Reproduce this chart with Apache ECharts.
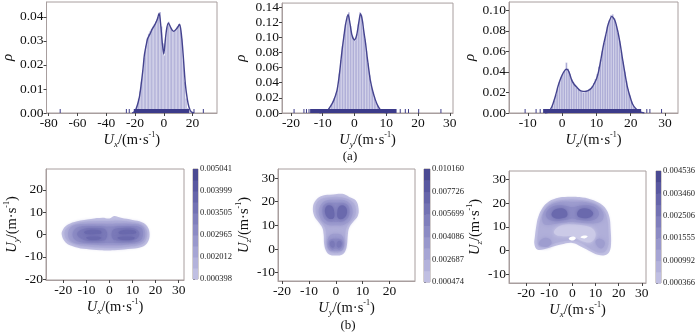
<!DOCTYPE html>
<html><head><meta charset="utf-8">
<script src="https://cdn.jsdelivr.net/npm/echarts@6/dist/echarts.min.js"></script>
<style>html,body{margin:0;padding:0;background:#fff}#c{width:700px;height:336px}</style>
</head><body><div id="c"></div>
<script>
// ---------- histogram data (density) ----------
const uxBinStart = -20, uxBinWidth = 1;
const uxDensity = [0.001,0.003,0.006,0.009,0.013,0.018,0.023,0.028,0.031,0.033,0.034,0.035,0.036,0.037,0.038,0.039,0.040,0.042,0.036,0.029,0.024,0.031,0.036,0.038,0.036,0.035,0.034,0.034,0.035,0.036,0.037,0.036,0.031,0.022,0.013,0.006,0.002,0.001];
const uxKde = [[-22,0],[-20,0.0008],[-18.5,0.003],[-17,0.0065],[-15.9,0.011],[-14.5,0.018],[-13.5,0.024],[-12.3,0.028],[-11.2,0.031],[-9.5,0.033],[-8,0.035],[-6,0.037],[-4.5,0.039],[-3.2,0.0415],[-2,0.036],[-1,0.029],[0,0.0245],[1,0.030],[2,0.035],[3.2,0.0375],[4.5,0.036],[5.8,0.0345],[7,0.034],[8.5,0.0348],[10,0.036],[11,0.037],[12,0.034],[13,0.028],[14,0.020],[15,0.012],[16.3,0.006],[17.5,0.0025],[19,0.0005],[21,0]];
const uxRugBands = [[-20.5, 18]];
const uxRugTicks = [-72, -26, -24, 21, 27.5];

const uyBinStart = -10, uyBinWidth = 0.5;
const uyDensity = [0.001,0.002,0.003,0.005,0.007,0.011,0.015,0.020,0.026,0.036,0.052,0.070,0.088,0.104,0.118,0.128,0.133,0.115,0.102,0.097,0.096,0.104,0.117,0.133,0.129,0.113,0.098,0.082,0.066,0.050,0.037,0.028,0.021,0.015,0.010,0.007,0.004,0.003,0.002,0.001];
const uyKde = [[-11,0],[-10,0.0008],[-8.6,0.003],[-7.5,0.009],[-6.5,0.017],[-5.5,0.03],[-4.9,0.046],[-4.4,0.064],[-3.9,0.083],[-3.3,0.102],[-2.8,0.117],[-2.0,0.130],[-1.4,0.118],[-0.8,0.103],[0,0.0965],[0.7,0.103],[1.3,0.118],[1.9,0.131],[2.5,0.122],[2.9,0.109],[3.5,0.092],[4.0,0.074],[4.5,0.058],[5.0,0.043],[5.8,0.028],[6.6,0.017],[7.4,0.009],[8.2,0.004],[9.2,0.0012],[10.5,0]];
const uyRugBands = [[-13.8, 13.4]];
const uyRugTicks = [-19, -15.9, -15.1, -14.3, 14.4, 16, 17, 20.2, 27.2];

const uzBinStart = -4, uzBinWidth = 0.5;
const uzDensity = [0.001,0.003,0.007,0.012,0.018,0.024,0.030,0.035,0.038,0.041,0.049,0.043,0.038,0.033,0.030,0.027,0.025,0.023,0.022,0.021,0.020,0.021,0.022,0.023,0.024,0.026,0.029,0.033,0.038,0.045,0.052,0.060,0.068,0.076,0.084,0.090,0.095,0.096,0.092,0.086,0.078,0.070,0.060,0.050,0.040,0.031,0.023,0.017,0.011,0.007,0.005,0.003,0.002,0.001];
const uzKde = [[-5,0],[-4,0.001],[-3,0.006],[-2,0.016],[-1.2,0.026],[-0.6,0.032],[0,0.037],[0.9,0.042],[1.4,0.0426],[2.0,0.040],[2.8,0.032],[3.5,0.028],[4.3,0.025],[5.2,0.022],[6.2,0.021],[7.0,0.0212],[7.7,0.022],[8.5,0.024],[9.1,0.027],[10.0,0.033],[10.6,0.040],[11.3,0.052],[12.0,0.065],[12.8,0.077],[13.5,0.087],[14.5,0.094],[15.4,0.090],[16.2,0.080],[16.9,0.068],[17.6,0.053],[18.3,0.039],[19.0,0.026],[19.8,0.016],[20.5,0.009],[21.3,0.005],[22.7,0.001],[24,0]];
const uzRugBands = [[-5.4, 23.2]];
const uzRugTicks = [-10.8, -7.6, -6.4, 24.7, 25.6, 29.0];

// ---------- tick labels ----------
const uxHistXTicks = [-80,-60,-40,-20,0,20];
const uxHistYTicks = [0,0.01,0.02,0.03,0.04];
const uyHistXTicks = [-20,-10,0,10,20,30];
const uyHistYTicks = [0,0.02,0.04,0.06,0.08,0.10,0.12,0.14];
const uzHistXTicks = [-10,0,10,20,30];
const uzHistYTicks = [0,0.02,0.04,0.06,0.08,0.10];
const uxuyXTicks = [-20,-10,0,10,20,30];
const uxuyYTicks = [-20,-10,0,10,20];
const uyuzXTicks = [-20,-10,0,10,20];
const uyuzYTicks = [-10,0,10,20,30];
const uxuzXTicks = [-20,-10,0,10,20,30];
const uxuzYTicks = [-10,0,10,20,30];

// ---------- colorbar labels ----------
const cbLabelsUxUy = ['0.000398','0.002012','0.002965','0.003505','0.003999','0.005041'];
const cbLabelsUyUz = ['0.000474','0.002687','0.004086','0.005699','0.007726','0.010160'];
const cbLabelsUxUz = ['0.000366','0.000992','0.001555','0.002506','0.003460','0.004536'];

// ---------- 2D density contour shapes (data coords) ----------
const uxuyL0 = [[-20.7,0],[-20,2.5],[-18,4.5],[-14,6],[-8,7],[-3,7.5],[0,7.2],[2,8.3],[5,7.5],[10,6.5],[14,5.5],[16.5,3.5],[17.4,0],[16.5,-3.5],[14,-5.5],[8,-6.5],[2,-7],[-4,-7],[-10,-6.5],[-15,-5.5],[-19,-3.5]];
const uxuyL1 = [[-19.5,0],[-18.5,2.8],[-14,4.9],[-8,5.9],[0,6.1],[5,6.2],[10,5.5],[14,4.4],[16,2],[16.2,-1],[14.5,-4],[8,-5.5],[0,-6],[-8,-5.6],[-14,-4.6],[-18,-2.8]];
const uxuyL2 = [[-18,0],[-16,3.8],[-8,4.8],[0,4.8],[8,4.8],[14,3.8],[15.5,0],[14,-3.2],[8,-4.4],[0,-4.8],[-8,-4.4],[-16,-3.4]];
const uxuyL3 = [[-16,0],[-14,3.2],[-7,3.8],[0,3.6],[7,3.8],[13.5,3.2],[14.5,0],[13,-2.9],[6,-3.6],[0,-3.8],[-6,-3.7],[-14,-3]];
const uxuyL4a = [[-14,0.3],[-11,2.6],[-5,2.8],[-1.5,2],[-1.5,-2],[-5,-2.8],[-11,-2.4]];
const uxuyL4b = [[1.5,2],[6,2.9],[11,2.6],[13,0.3],[11,-2.2],[5,-2.6],[1.5,-2]];
const uxuyL5a = [[-11,1.2],[-8,2.1],[-4,1.8],[-3.5,0.6],[-6,0.2],[-10,0.3]];
const uxuyL5b = [[4,1.2],[7,2.1],[11,1.8],[11.5,0.6],[8,0.2],[4.5,0.3]];
const uxuyL5c = [[-10,-1.2],[-6,-0.9],[-3.5,-1.4],[-5,-2.3],[-9,-2.2]];
const uxuyL5d = [[3.5,-1.3],[7,-0.9],[11,-1.3],[10,-2.2],[5,-2.3]];

const uyuzL0 = [[-1,23],[-5,22.5],[-7.5,20.5],[-8.5,17.5],[-8,14],[-6.5,11.5],[-5,9],[-4.5,6],[-4.3,2],[-3.5,-1],[-2,-2.5],[0,-2.7],[2,-2.5],[3.5,-1],[4.2,2],[4.5,6],[5,9],[6.5,11.5],[8.2,14],[8.5,17],[7.5,20.5],[5,22],[2.5,23.3]];
const uyuzL1 = [[-1,22],[-5,21.3],[-7,19.5],[-7.5,17],[-7,14],[-5.5,11.5],[-4,9],[-3.5,6],[-3.3,2],[-2.5,-0.5],[0,-1.5],[2.5,-0.5],[3.3,2],[3.5,6],[4,9],[5.5,11.5],[7.2,14],[7.5,17],[6.5,19.5],[4,21.3],[1,22]];
const uyuzL2a = [[-6.2,17],[-5.7,13],[-3.5,10.5],[0,10],[3.5,10.5],[5.7,13],[6.2,17],[4,20.3],[0,20.8],[-4,20.3]];
const uyuzL2b = [[-3,3.5],[-2.5,-0.3],[0,-0.8],[2.5,-0.3],[3,3.5],[2,6],[0,6.5],[-2,6]];
const uyuzL3a = [[-5,15.5],[-3.5,12],[0,11.5],[3.5,12],[5.2,15.5],[4,19],[0,19.5],[-4,19]];
const uyuzL3b = [[-2.6,2],[-1.5,-0.2],[0,0.2],[1.5,-0.2],[2.6,2],[2,4],[0,4.3],[-2,4]];
const uyuzL4a = [[-4,15.5],[-2.8,13],[-0.8,13],[-0.6,16],[-1.5,18.2],[-3.5,18]];
const uyuzL4b = [[0.6,16],[0.9,13],[3,13],[4.2,15.5],[3.5,18],[1.5,18.2]];
const uyuzL4c = [[-2.2,2],[-1.4,0.6],[-0.4,1.2],[-0.7,3.2],[-1.8,3.3]];
const uyuzL4d = [[0.4,1.2],[1.4,0.6],[2.2,2],[1.8,3.3],[0.7,3.2]];

const uxuzL0 = [[-16.4,2.5],[-16.2,6],[-15.5,11],[-14.8,14],[-13.5,17],[-11,20],[-7,22],[-2,22.6],[3,22.5],[8,21.5],[12,19.8],[14.5,17.5],[16,14],[16.5,9],[16.7,3],[16,-0.5],[14,-2],[11,-1.8],[8,-0.5],[4,1.5],[0,3.2],[-5,2.5],[-10,1.2],[-15,0.3]];
const uxuzL1 = [[-15,3],[-14.8,8],[-14,12.5],[-12,17],[-9,20],[-4,21.3],[3,21.3],[9,20],[13,17.5],[15,13.5],[15.5,8],[15.5,2.5],[14,-0.5],[11,-0.8],[7.5,0.8],[4,3],[0,4.3],[-5,3.7],[-10,2.3],[-14,1.5]];
const uxuzHole = [[-8,8],[-5,10.5],[0,11],[5,10.5],[9,9],[10,6],[8,3.5],[4,4],[0,6],[-4,6],[-7,6.5]];
const uxuzL2a = [[-13,14],[-11,18],[-6,20.3],[0,20.5],[6,20.3],[11,18.5],[13.5,15],[12,12],[6,11.5],[0,12],[-6,11.5],[-12,11]];
const uxuzL2b = [[-14.5,2.5],[-13,5],[-10,5],[-9,3],[-11,1.5]];
const uxuzL2c = [[10,4],[12,5],[14,3.5],[13,1],[11,1.5]];
const uxuzL3 = [[-11.5,15],[-9,18.3],[-4,19],[0,18.3],[4,19],[9,18.5],[11.5,15.5],[9,12.8],[3,12.8],[0,13.5],[-3,12.8],[-9,12.6]];
const uxuzL4a = [[-9,15.5],[-7,17.5],[-3,17.2],[-2.3,14.5],[-5,13.5],[-8,13.8]];
const uxuzL4b = [[2,15.5],[3.5,17.5],[7,17.5],[9,15.5],[7,13.8],[3,14]];
const uxuzWhite1 = [[-1.6,5],[0,5.9],[1.5,5.3],[0.2,4.2]];
const uxuzWhite2 = [[3.5,5.6],[5,6.3],[6.6,6],[5.3,5.1]];

// ---------- styles ----------
const FONT = 'Liberation Serif';
const C = ['#c2c1e3','#b0afd9','#9e9dcf','#8c8bc4','#7a79b8','#6a69ad','#5c5ba1'];
const cbColors = ['#c0bfe2','#b3b2db','#a6a5d4','#9998cc','#8c8bc4','#807fbc','#7372b3','#6665aa','#5958a0','#4b4a92'];
const frameColor = '#a89e9e';

const chart = echarts.init(document.getElementById('c'), null, {renderer:'canvas'});

const grids = [
  {left:45, top:2, width:172, height:111},
  {left:282, top:2, width:171, height:111},
  {left:509, top:2, width:169, height:111},
  {left:46, top:169, width:138, height:111},
  {left:278, top:169, width:137, height:112},
  {left:509, top:171, width:137, height:112},
  {left:193, top:169, width:5, height:110},
  {left:424, top:169, width:6, height:113},
  {left:656, top:171, width:5, height:112}
].map(g => Object.assign({show:true, borderColor:frameColor, borderWidth:1, containLabel:false}, g));

const unitRich = {
  i:{fontFamily:FONT, fontStyle:'italic', fontSize:14.5, lineHeight:18, color:'#111'},
  s:{fontFamily:FONT, fontStyle:'italic', fontSize:9, lineHeight:9, verticalAlign:'bottom', color:'#111'},
  n:{fontFamily:FONT, fontSize:14.5, lineHeight:18, color:'#111'},
  p:{fontFamily:FONT, fontSize:8, lineHeight:8, verticalAlign:'top', color:'#111'}
};
function unitName(sub){ return '{i|U}{s|' + sub + '}{n|/(m·s}{p|-1}{n|)}'; }

function baseAxis(gi, min, max, ticks, fmt){
  return {
    type:'value', gridIndex:gi, min:min, max:max,
    splitLine:{show:false},
    axisLine:{show:true, onZero:false, lineStyle:{color:frameColor, width:1}},
    axisTick:{show:true, length:3, inside:false, lineStyle:{color:'#444'}, customValues:ticks},
    axisLabel:{show:true, color:'#111', fontFamily:FONT, fontSize:13.5, margin:3, customValues:ticks, formatter:fmt || (v => String(Math.round(v)))}
  };
}
function xAx(gi, min, max, ticks, name, gap){
  const a = baseAxis(gi, min, max, ticks);
  a.position = 'bottom';
  a.name = name; a.nameLocation = 'middle'; a.nameGap = gap;
  a.nameTextStyle = {rich: unitRich};
  return a;
}
function yAxHist(gi, min, max, ticks, gap){
  const a = baseAxis(gi, min, max, ticks, v => v.toFixed(2));
  a.name = 'ρ'; a.nameLocation = 'middle'; a.nameGap = gap; a.nameRotate = 90;
  a.nameTextStyle = {fontFamily:FONT, fontStyle:'italic', fontSize:15, color:'#111'};
  return a;
}
function yAxJoint(gi, min, max, ticks, name, gap){
  const a = baseAxis(gi, min, max, ticks);
  a.name = name; a.nameLocation = 'middle'; a.nameGap = gap; a.nameRotate = 90;
  a.nameTextStyle = {rich: unitRich};
  return a;
}
function cbX(gi){ return {type:'value', gridIndex:gi, min:0, max:1, show:false}; }
function cbY(gi, labels){
  return {type:'value', gridIndex:gi, min:0, max:5, position:'right',
    splitLine:{show:false},
    axisLine:{show:false},
    axisTick:{show:true, length:2, lineStyle:{color:'#666'}, customValues:[0,1,2,3,4,5]},
    axisLabel:{show:true, color:'#222', fontFamily:FONT, fontSize:8.5, margin:2, customValues:[0,1,2,3,4,5], formatter: v => labels[Math.round(v)]}
  };
}

function histSeries(idx, start, width, vals){
  return {type:'custom', xAxisIndex:idx, yAxisIndex:idx, silent:true, clip:true,
    data: vals.map((v,i) => [start + i*width, start + (i+1)*width, v]),
    encode:{x:[0,1], y:2},
    renderItem:(p, api) => {
      const a = api.coord([api.value(0), api.value(2)]);
      const b = api.coord([api.value(1), 0]);
      return {type:'rect', shape:{x:a[0], y:a[1], width:b[0]-a[0], height:b[1]-a[1]},
        style:{fill:'#a6a5d3', stroke:'rgba(255,255,255,0.7)', lineWidth:0.4}};
    }};
}
function kdeSeries(idx, pts){
  return {type:'line', xAxisIndex:idx, yAxisIndex:idx, data:pts, smooth:0.25, showSymbol:false, silent:true,
    lineStyle:{color:'#45448f', width:1.4}, z:3};
}
function rugSeries(idx, bands, ticks){
  const items = bands.map(b => [b[0], b[1], 0]).concat(ticks.map(t => [t, t, 0]));
  return {type:'custom', xAxisIndex:idx, yAxisIndex:idx, silent:true, z:4,
    data: items, encode:{x:[0,1], y:2},
    renderItem:(p, api) => {
      const a = api.coord([api.value(0), 0]);
      const b = api.coord([api.value(1), 0]);
      const w = Math.max(1, b[0]-a[0]);
      return {type:'rect', shape:{x:a[0]-0.5, y:a[1]-4, width:w, height:4},
        style:{fill:'#3c3b8a'}};
    }};
}
function contourSeries(idx, shapes){
  return {type:'custom', xAxisIndex:idx, yAxisIndex:idx, silent:true, clip:true,
    data: shapes.map((s,i) => [s[1][0][0], s[1][0][1], i]),
    encode:{x:0, y:1},
    renderItem:(p, api) => {
      const s = shapes[p.dataIndex];
      const soft = s[2] ? 0 : 4;
      return {type:'polygon', shape:{points:s[1].map(q => api.coord(q)), smooth:0.4},
        style:{fill:s[0], shadowBlur:soft, shadowColor:s[0]}};
    }};
}
function colorbarSeries(idx){
  const n = cbColors.length;
  return {type:'custom', xAxisIndex:idx, yAxisIndex:idx, silent:true,
    data: cbColors.map((c,i) => [0, 1, i*5/n, (i+1)*5/n]),
    encode:{x:[0,1], y:[2,3]},
    renderItem:(p, api) => {
      const a = api.coord([api.value(0), api.value(3)]);
      const b = api.coord([api.value(1), api.value(2)]);
      return {type:'rect', shape:{x:a[0], y:a[1], width:b[0]-a[0], height:b[1]-a[1]+0.5},
        style:{fill:cbColors[p.dataIndex]}};
    }};
}

const option = {
  animation:false,
  backgroundColor:'#fff',
  grid: grids,
  xAxis: [
    xAx(0, -81.5, 37, uxHistXTicks, unitName('x'), 15),
    xAx(1, -22.8, 31, uyHistXTicks, unitName('y'), 15),
    xAx(2, -15.5, 33.8, uzHistXTicks, unitName('z'), 15),
    xAx(3, -27.5, 32.3, uxuyXTicks, unitName('x'), 17),
    xAx(4, -21.5, 29.5, uyuzXTicks, unitName('y'), 15),
    xAx(5, -27.4, 31.8, uxuzXTicks, unitName('x'), 15),
    cbX(6), cbX(7), cbX(8)
  ],
  yAxis: [
    yAxHist(0, 0, 0.0462, uxHistYTicks, 28),
    yAxHist(1, 0, 0.1452, uyHistYTicks, 33),
    yAxHist(2, 0, 0.108, uzHistYTicks, 31),
    yAxJoint(3, -20.3, 29.3, uxuyYTicks, unitName('y'), 23),
    yAxJoint(4, -13.5, 33.8, uyuzYTicks, unitName('z'), 22),
    yAxJoint(5, -13.7, 33.5, uxuzYTicks, unitName('z'), 22),
    cbY(6, cbLabelsUxUy), cbY(7, cbLabelsUyUz), cbY(8, cbLabelsUxUz)
  ],
  series: [
    histSeries(0, uxBinStart, uxBinWidth, uxDensity), kdeSeries(0, uxKde), rugSeries(0, uxRugBands, uxRugTicks),
    histSeries(1, uyBinStart, uyBinWidth, uyDensity), kdeSeries(1, uyKde), rugSeries(1, uyRugBands, uyRugTicks),
    histSeries(2, uzBinStart, uzBinWidth, uzDensity), kdeSeries(2, uzKde), rugSeries(2, uzRugBands, uzRugTicks),
    contourSeries(3, [[C[0],uxuyL0,1],[C[1],uxuyL1],[C[2],uxuyL2],[C[3],uxuyL3],[C[4],uxuyL4a],[C[4],uxuyL4b],[C[5],uxuyL5a],[C[5],uxuyL5b],[C[5],uxuyL5c],[C[5],uxuyL5d]]),
    contourSeries(4, [[C[0],uyuzL0,1],[C[1],uyuzL1],[C[2],uyuzL2a],[C[2],uyuzL2b],[C[3],uyuzL3a],[C[3],uyuzL3b],[C[5],uyuzL4a],[C[5],uyuzL4b],[C[4],uyuzL4c],[C[4],uyuzL4d]]),
    contourSeries(5, [[C[0],uxuzL0,1],[C[1],uxuzL1],['#cbcae7',uxuzHole],[C[2],uxuzL2a],[C[2],uxuzL2b],[C[2],uxuzL2c],[C[3],uxuzL3],[C[5],uxuzL4a],[C[5],uxuzL4b],['#ffffff',uxuzWhite1,1],['#ffffff',uxuzWhite2,1]]),
    colorbarSeries(6), colorbarSeries(7), colorbarSeries(8)
  ],
  graphic: [
    {type:'text', x:350, y:157, style:{text:'(a)', fontFamily:FONT, fontSize:13, fill:'#111', align:'center', verticalAlign:'middle'}},
    {type:'text', x:348, y:326, style:{text:'(b)', fontFamily:FONT, fontSize:13, fill:'#111', align:'center', verticalAlign:'middle'}}
  ]
};
chart.setOption(option);
</script></body></html>
